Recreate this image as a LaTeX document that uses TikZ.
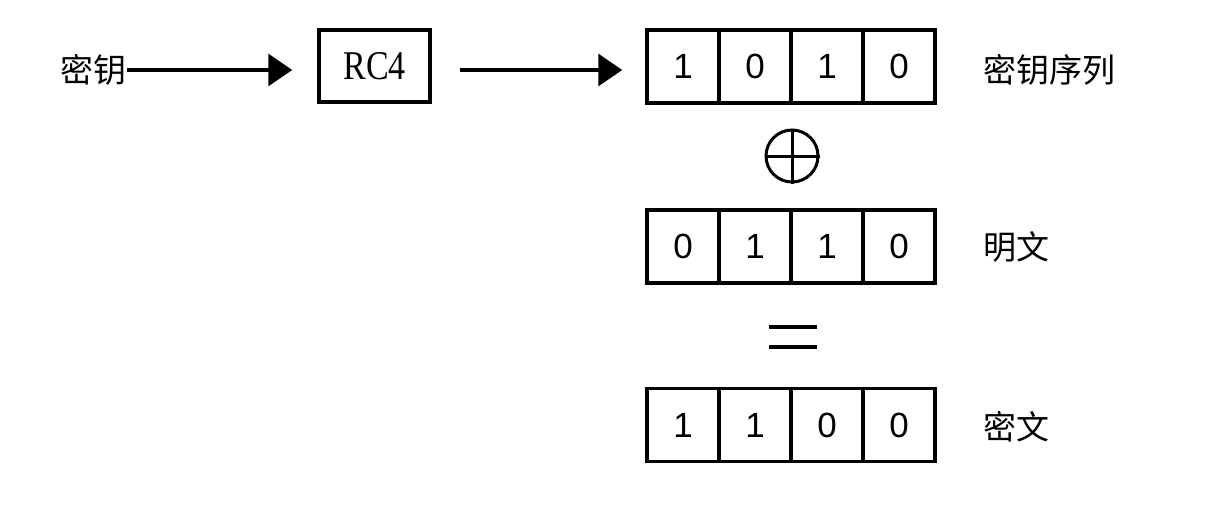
\documentclass[tikz,border=0pt]{standalone}
\usepackage{fontspec}
\setmainfont{Liberation Serif}
\newfontfamily\digitfont{Liberation Sans}
\newfontfamily\cjk{Noto Sans CJK SC}
\usetikzlibrary{arrows.meta}
\begin{document}
\begin{tikzpicture}[x=1pt,y=-1pt,
  cell/.style={draw, line width=3.5pt, minimum width=72pt, minimum height=73pt, inner sep=0pt, font=\digitfont\fontsize{35}{40}\selectfont},
  lbl/.style={inner sep=0pt, font=\cjk\fontsize{33}{38}\selectfont},
  arr/.style={line width=3.2pt, -{Triangle[length=24pt,width=32pt]}},
  rcbox/.style={draw, line width=3.5pt, minimum width=111pt, minimum height=72pt, inner sep=0pt, font=\fontsize{34}{40}\selectfont}
]
\useasboundingbox (0,0) rectangle (1230,506);
\fill[white] (0,0) rectangle (1230,506);

\node[lbl] (key) at (93,70) {密钥};
\node[rcbox] (rc4) at (374.5,66) {\scalebox{1}[1.2]{RC4}};

% key stream
\node[cell] (k1) at (683,66.5) {1};
\node[cell] (k2) at (755,66.5) {0};
\node[cell] (k3) at (827,66.5) {1};
\node[cell] (k4) at (899,66.5) {0};
\node[lbl, anchor=west] (kslbl) at (983,70) {密钥序列};

% xor
\node[circle, draw, line width=3pt, minimum size=52pt, inner sep=0pt] (xor) at (792,156) {};
\draw[line width=3pt] (xor.north) -- (xor.south);
\draw[line width=3pt] (xor.west) -- (xor.east);

% plaintext
\node[cell] (p1) at (683,246.5) {0};
\node[cell] (p2) at (755,246.5) {1};
\node[cell] (p3) at (827,246.5) {1};
\node[cell] (p4) at (899,246.5) {0};
\node[lbl, anchor=west] (ptlbl) at (983,247) {明文};

% equals
\coordinate (eq) at (793,337);
\draw[line width=3.5pt] ([xshift=-24pt,yshift=-10pt]eq) -- ([xshift=24pt,yshift=-10pt]eq);
\draw[line width=3.5pt] ([xshift=-24pt,yshift=10pt]eq) -- ([xshift=24pt,yshift=10pt]eq);

% ciphertext
\node[cell] (c1) at (683,425) {1};
\node[cell] (c2) at (755,425) {1};
\node[cell] (c3) at (827,425) {0};
\node[cell] (c4) at (899,425) {0};
\node[lbl, anchor=west] (ctlbl) at (983,427) {密文};

% arrows
\draw[arr, shorten <=1pt, shorten >=25pt] (key.east) -- (key.east -| rc4.west);
\draw[arr, shorten <=28pt, shorten >=23pt] (rc4.east |- key.east) -- (key.east -| k1.west);
\end{tikzpicture}
\end{document}
